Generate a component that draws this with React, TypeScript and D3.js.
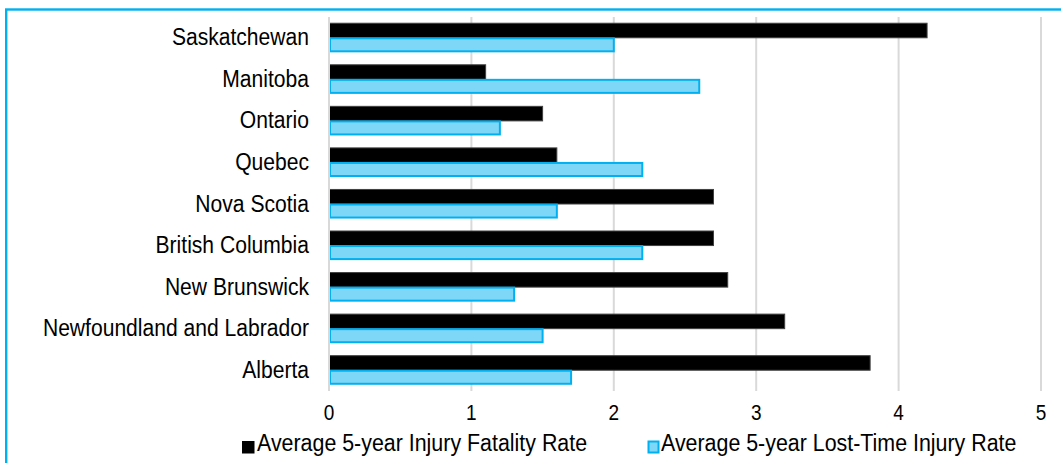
import React from "react";
import * as d3 from "d3";

const categories = [
  "Saskatchewan",
  "Manitoba",
  "Ontario",
  "Quebec",
  "Nova Scotia",
  "British Columbia",
  "New Brunswick",
  "Newfoundland and Labrador",
  "Alberta",
];
const fatalityRate = [4.2, 1.1, 1.5, 1.6, 2.7, 2.7, 2.8, 3.2, 3.8];
const lostTimeRate = [2.0, 2.6, 1.2, 2.2, 1.6, 2.2, 1.3, 1.5, 1.7];
const xTicks = [0, 1, 2, 3, 4, 5];
const seriesNames = [
  "Average 5-year Injury Fatality Rate",
  "Average 5-year Lost-Time Injury Rate",
];

const W = 1061;
const H = 463;
const FONT = "'Liberation Sans', Arial, sans-serif";
const SY = 1.15;

export default function App() {
  const x = d3.scaleLinear().domain([0, 5]).range([329, 1041]);
  const y = d3.scaleBand<string>().domain(categories).range([17, 391]).paddingInner(0.3).paddingOuter(0.15);
  const sub = d3.scaleBand<string>().domain(["f", "l"]).range([0, y.bandwidth()]);

  const T = (props: any) => {
    const { x: tx, y: ty, children, ...rest } = props;
    return (
      <text transform={`translate(${tx},${ty}) scale(1,${SY})`} fontFamily={FONT} fill="#000" {...rest}>
        {children}
      </text>
    );
  };

  return (
    <svg width={W} height={H} style={{ position: "absolute", left: 0, top: 0 }}>
      <rect x={0} y={0} width={W} height={H} fill="#fff" />
      <rect x={6.2} y={9.5} width={3000} height={3000} fill="none" stroke="#00B0F0" strokeWidth={2.4} />
      {xTicks.slice(1).map((t) => (
        <line key={t} x1={x(t)} x2={x(t)} y1={17} y2={391} stroke="#d9d9d9" strokeWidth={2} />
      ))}
      {categories.map((c, i) => (
        <g key={c}>
          <rect
            x={x(0)}
            y={(y(c) as number) + (sub("f") as number)}
            width={x(fatalityRate[i]) - x(0)}
            height={sub.bandwidth()}
            fill="#000"
            stroke="#404040"
            strokeWidth={1}
          />
          <rect
            x={x(0) + 1}
            y={(y(c) as number) + (sub("l") as number) + 0.5}
            width={x(lostTimeRate[i]) - x(0) - 1}
            height={sub.bandwidth() - 1.5}
            fill="#7FD7F7"
            stroke="#00B0F0"
            strokeWidth={2}
          />
          <T x={309} y={(y(c) as number) + y.bandwidth() / 2 + 7.5} textAnchor="end" fontSize={21.1}>
            {c}
          </T>
        </g>
      ))}
      <line x1={x(0)} x2={x(0)} y1={17} y2={391} stroke="#d9d9d9" strokeWidth={2} />
      {xTicks.map((t) => (
        <T key={t} x={x(t)} y={419.5} textAnchor="middle" fontSize={19}>
          {t}
        </T>
      ))}
      <rect x={242} y={441} width={12.5} height={12.5} fill="#000" />
      <T x={257} y={451} fontSize={21.4}>
        {seriesNames[0]}
      </T>
      <rect x={648.5} y={441.5} width={10} height={11} fill="#7FD7F7" stroke="#00B0F0" strokeWidth={2} />
      <T x={661} y={451} fontSize={21.4}>
        {seriesNames[1]}
      </T>
    </svg>
  );
}
